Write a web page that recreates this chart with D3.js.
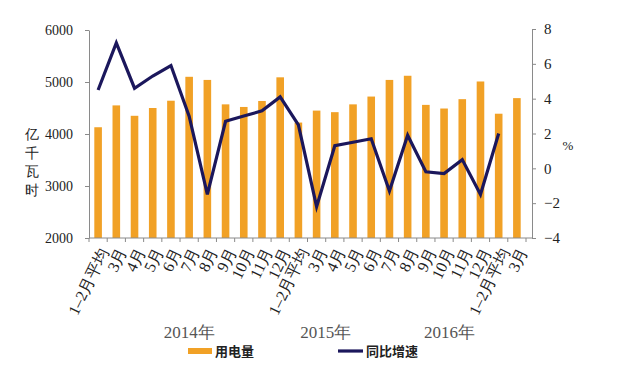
<!DOCTYPE html>
<html><head><meta charset="utf-8">
<script src="https://cdn.jsdelivr.net/npm/d3@7"></script>
<style>body{margin:0;background:#fff}svg{display:block}</style>
</head><body><svg id="c" width="640" height="369"></svg>
<script>
const categories = ["1–2月平均","3月","4月","5月","6月","7月","8月","9月","10月","11月","12月",
  "1–2月平均","3月","4月","5月","6月","7月","8月","9月","10月","11月","12月",
  "1–2月平均","3月"];
const consumption = [4130,4550,4350,4500,4640,5100,5040,4570,4520,4635,5090,
  4220,4450,4420,4570,4720,5040,5120,4560,4490,4670,5010,
  4390,4690];
const growth = [4.5,7.2,4.6,5.3,5.9,3.0,-1.5,2.7,3.0,3.3,4.1,
  2.5,-2.2,1.3,1.5,1.7,-1.3,1.9,-0.2,-0.3,0.5,-1.5,
  2.0,null];
const leftTicks = [2000,3000,4000,5000,6000];
const rightTicks = [-4,-2,0,2,4,6,8];
const years = [{label:"2014年", idx:5},{label:"2015年", idx:12.5},{label:"2016年", idx:19.3}];

const svg = d3.select("#c");
const xb = d3.scaleBand().domain(d3.range(categories.length)).range([89,526]);
const yL = d3.scaleLinear().domain([2000,6000]).range([238,30]);
const yR = d3.scaleLinear().domain([-4,8]).range([238,29]);
const axisColor = "#8a8a8a";
const F = "Liberation Serif, DejaVu Serif, serif";

svg.append("g").selectAll("rect").data(consumption).join("rect")
  .attr("x",(d,i)=>xb(i)+xb.bandwidth()/2-3.8).attr("width",7.6)
  .attr("y",d=>yL(d)).attr("height",d=>238-yL(d)).attr("fill","#F1A126");

const line = d3.line().defined(d=>d!=null).x((d,i)=>xb(i)+xb.bandwidth()/2).y(d=>yR(d));
svg.append("path").datum(growth).attr("d",line).attr("fill","none")
  .attr("stroke","#1b175c").attr("stroke-width",3.2);

const gl = svg.append("g").attr("transform","translate(89,0)")
  .call(d3.axisLeft(yL).tickValues(leftTicks).tickSize(4).tickSizeOuter(0).tickFormat(d3.format("d")));
gl.attr("font-family",F).attr("font-size",14);
gl.selectAll("text").attr("fill","#222").attr("x",-16);
const gr = svg.append("g").attr("transform","translate(532,0)")
  .call(d3.axisRight(yR).tickValues(rightTicks).tickSize(4).tickSizeOuter(0).tickFormat(d=>d<0?"−"+Math.abs(d):d));
gr.attr("font-family",F).attr("font-size",15);
gr.selectAll("text").attr("fill","#222").attr("x",12);
[gl,gr].forEach(g=>{g.select(".domain").attr("stroke",axisColor);g.selectAll(".tick line").attr("stroke",axisColor);});

const gx = svg.append("g").attr("transform","translate(0,238)");
gx.append("line").attr("x1",89).attr("x2",532).attr("stroke",axisColor);
gx.selectAll("line.t").data(d3.range(categories.length+1)).join("line").attr("class","t")
  .attr("x1",i=>89+i*xb.step()).attr("x2",i=>89+i*xb.step()).attr("y1",0).attr("y2",4).attr("stroke",axisColor);
gx.selectAll("text").data(categories).join("text")
  .attr("transform",(d,i)=>`translate(${xb(i)+xb.bandwidth()/2+6},11) rotate(-64)`)
  .attr("text-anchor","end").attr("dy","0.35em")
  .attr("font-family",F).attr("font-size",16).attr("fill","#222").text(d=>d);

["亿","千","瓦","时"].forEach((c,i)=>svg.append("text").attr("x",32).attr("y",139+i*18.5)
  .attr("text-anchor","middle").attr("font-family",F).attr("font-size",14).attr("fill","#222").text(c));
svg.append("text").attr("x",568).attr("y",150).attr("text-anchor","middle")
  .attr("font-family",F).attr("font-size",13).attr("fill","#222").text("%");

svg.selectAll("text.yr").data(years).join("text").attr("class","yr")
  .attr("x",d=>xb(0)+xb.step()*d.idx+xb.step()/2).attr("y",338).attr("text-anchor","middle")
  .attr("font-family",F).attr("font-size",17).attr("fill","#555").text(d=>d.label);

const lg = svg.append("g");
lg.append("rect").attr("x",188).attr("y",348).attr("width",24).attr("height",6).attr("fill","#F1A126");
lg.append("text").attr("x",215).attr("y",356).attr("font-family","Noto Sans CJK SC").attr("font-weight","bold")
  .attr("font-size",13).attr("fill","#222").text("用电量");
lg.append("line").attr("x1",338).attr("x2",363).attr("y1",351).attr("y2",351).attr("stroke","#1b175c").attr("stroke-width",3.2);
lg.append("text").attr("x",366).attr("y",356).attr("font-family","Noto Sans CJK SC").attr("font-weight","bold")
  .attr("font-size",13).attr("fill","#222").text("同比增速");
</script></body></html>
